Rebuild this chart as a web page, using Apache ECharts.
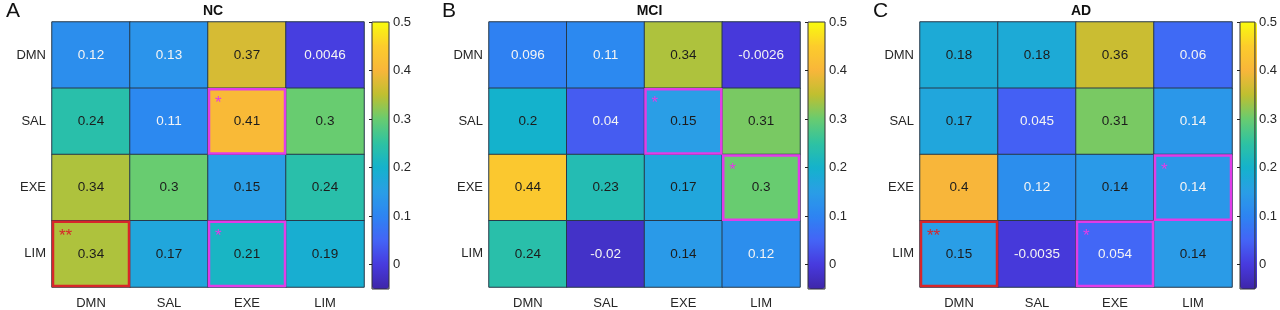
<!DOCTYPE html>
<html>
<head>
<meta charset="utf-8">
<script src="https://cdn.jsdelivr.net/npm/echarts@6/dist/echarts.min.js"></script>
<style>
  html, body { margin: 0; padding: 0; background: #fff; }
  #main { width: 1280px; height: 310px; }
</style>
</head>
<body>
<div id="main"></div>
<script>
var networks = ['DMN', 'SAL', 'EXE', 'LIM'];
var groupNames = ['NC', 'MCI', 'AD'];
var panelLetters = ['A', 'B', 'C'];

// rows = DMN, SAL, EXE, LIM ; cols = DMN, SAL, EXE, LIM
var ncValues = [
    [0.12, 0.13, 0.37, 0.0046],
    [0.24, 0.11, 0.41, 0.3],
    [0.34, 0.3, 0.15, 0.24],
    [0.34, 0.17, 0.21, 0.19]
];
var mciValues = [
    [0.096, 0.11, 0.34, -0.0026],
    [0.2, 0.04, 0.15, 0.31],
    [0.44, 0.23, 0.17, 0.3],
    [0.24, -0.02, 0.142, 0.12]
];
var adValues = [
    [0.18, 0.18, 0.36, 0.06],
    [0.17, 0.045, 0.31, 0.136],
    [0.4, 0.12, 0.143, 0.137],
    [0.15, -0.0035, 0.054, 0.144]
];

// significance marks: [col, row, level]  (1 = *, 2 = **)
var ncMarks = [[2, 1, 1], [2, 3, 1], [0, 3, 2]];
var mciMarks = [[2, 1, 1], [3, 2, 1]];
var adMarks = [[3, 2, 1], [0, 3, 2], [2, 3, 1]];

var scaleMin = -0.05;
var scaleMax = 0.5;
var colorbarTicks = [0, 0.1, 0.2, 0.3, 0.4, 0.5];

// parula-like colours, evenly spaced from -0.05 to 0.5
var parula = ['#3e26a8', '#473ade', '#4464f6', '#2d84f2', '#2a9ee6', '#14b2cc',
    '#2ec2a2', '#68cc70', '#bfbf30', '#f8b63a', '#fccc2c', '#f9fb0e'];

var allValues = [ncValues, mciValues, adValues];
var allMarks = [ncMarks, mciMarks, adMarks];

var layout = [
    {left: 52, width: 312, bar: 372, letter: 1},
    {left: 489, width: 311, bar: 808, letter: 437},
    {left: 920, width: 312, bar: 1240, letter: 868}
];
var gridTop = 22, gridHeight = 267;
var font = 'Arial, "Liberation Sans", Helvetica, sans-serif';

var chartDom = document.getElementById('main');
var myChart = echarts.init(chartDom);

var grids = [], xAxes = [], yAxes = [], series = [], visualMaps = [], titles = [];

function fmt(v) {
    return String(Number(v.toPrecision(2)));
}

layout.forEach(function (L, i) {
    // heatmap grid
    grids.push({left: L.left, top: gridTop, width: L.width, height: gridHeight});
    xAxes.push({
        type: 'category', gridIndex: 2 * i, data: networks,
        axisLine: {show: false}, axisTick: {show: false},
        axisLabel: {color: '#262626', fontSize: 13, fontFamily: font, margin: 10},
        splitArea: {show: false}
    });
    yAxes.push({
        type: 'category', gridIndex: 2 * i, data: networks, inverse: true,
        axisLine: {show: false}, axisTick: {show: false},
        axisLabel: {color: '#262626', fontSize: 13, fontFamily: font, margin: 6},
        splitArea: {show: false}
    });
    // colorbar grid
    grids.push({
        left: L.bar, top: gridTop, width: 17, height: gridHeight,
        show: true, borderColor: '#333', borderWidth: 1,
        backgroundColor: 'transparent', z: 6
    });
    xAxes.push({type: 'value', gridIndex: 2 * i + 1, show: false});
    yAxes.push({
        type: 'value', gridIndex: 2 * i + 1, position: 'right',
        min: scaleMin, max: scaleMax, z: 6,
        axisLine: {show: false},
        axisTick: {show: true, inside: true, length: 3, lineStyle: {color: '#222'},
            customValues: colorbarTicks},
        axisLabel: {color: '#262626', fontSize: 13, fontFamily: font, margin: 4,
            customValues: colorbarTicks},
        splitLine: {show: false}
    });

    var data = [];
    allValues[i].forEach(function (row, r) {
        row.forEach(function (v, c) {
            data.push([c, r, v]);
        });
    });

    series.push({
        type: 'heatmap',
        xAxisIndex: 2 * i, yAxisIndex: 2 * i,
        data: data,
        itemStyle: {borderColor: '#27394a', borderWidth: 1},
        emphasis: {disabled: true},
        label: {
            show: true,
            fontSize: 13.5,
            fontFamily: font,
            formatter: function (p) {
                var v = p.value[2];
                return (v < 0.14 ? '{w|' : '{k|') + fmt(v) + '}';
            },
            rich: {
                w: {color: '#f4f4f4', fontSize: 13.5, fontFamily: font},
                k: {color: '#1c1c1c', fontSize: 13.5, fontFamily: font}
            }
        }
    });

    visualMaps.push({
        type: 'continuous',
        seriesIndex: 2 * i,
        min: scaleMin, max: scaleMax,
        left: L.bar, top: gridTop,
        itemWidth: 17, itemHeight: gridHeight,
        padding: 0,
        calculable: false,
        hoverLink: false,
        text: null,
        z: 1,
        inRange: {color: parula}
    });

    series.push({
        type: 'custom',
        xAxisIndex: 2 * i, yAxisIndex: 2 * i,
        data: allMarks[i],
        z: 5,
        silent: true,
        renderItem: function (params, api) {
            var p = api.coord([api.value(0), api.value(1)]);
            var s = api.size([1, 1]);
            var level = api.value(2);
            var color = level === 2 ? '#d8262a' : '#e23ce8';
            var x0 = p[0] - s[0] / 2, y0 = p[1] - s[1] / 2;
            return {
                type: 'group',
                children: [{
                    type: 'rect',
                    shape: {x: x0 + 1, y: y0 + 1, width: s[0] - 2, height: s[1] - 2},
                    style: {fill: 'none', stroke: color, lineWidth: 2.5}
                }, {
                    type: 'text',
                    style: {
                        text: level === 2 ? '**' : '*',
                        x: x0 + 7, y: y0 + 7,
                        fill: color,
                        font: '17px ' + font,
                        textAlign: 'left', textVerticalAlign: 'top'
                    }
                }]
            };
        }
    });

    titles.push({
        text: groupNames[i],
        left: L.left + L.width / 2, top: -1, textAlign: 'center',
        textStyle: {fontSize: 14, fontWeight: 'bold', color: '#111', fontFamily: font}
    });
    titles.push({
        text: panelLetters[i],
        left: L.letter, top: -4,
        textStyle: {fontSize: 21, fontWeight: 'normal', color: '#111', fontFamily: font}
    });
});

var option = {
    animation: false,
    title: titles,
    grid: grids,
    xAxis: xAxes,
    yAxis: yAxes,
    visualMap: visualMaps,
    series: series
};

myChart.setOption(option);
</script>
</body>
</html>
